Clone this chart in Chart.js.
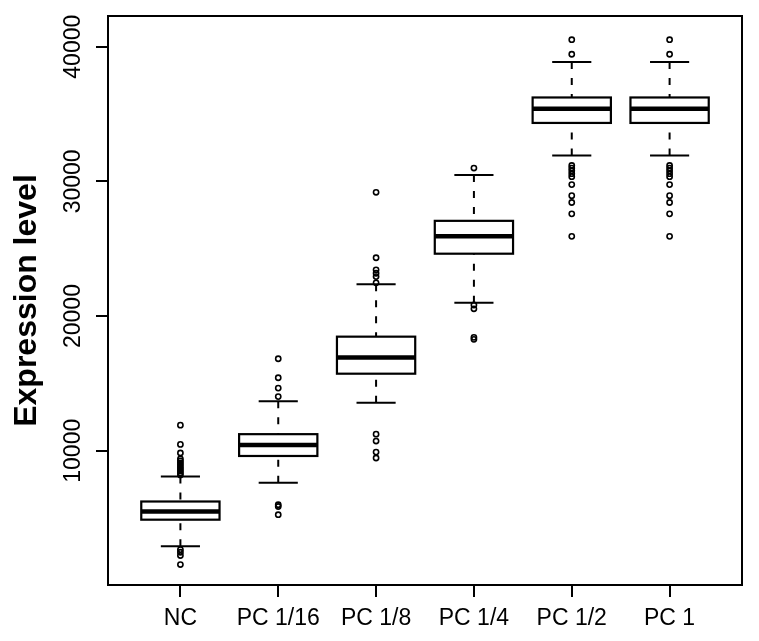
<!DOCTYPE html>
<html>
<head>
<meta charset="utf-8">
<script src="https://cdn.jsdelivr.net/npm/chart.js@4"></script>
<style>
  html, body { margin: 0; padding: 0; background: #fff; }
  #wrap { width: 759px; height: 641px; }
</style>
</head>
<body>
<div id="wrap"><canvas id="boxChart" width="759" height="641"></canvas></div>
<script>
// group names and five-number summaries
const categories = ['NC', 'PC 1/16', 'PC 1/8', 'PC 1/4', 'PC 1/2', 'PC 1'];
const lowerWhisker = [2900, 7630, 13570, 20990, 31920, 31920];
const q1 = [4880, 9610, 15720, 24630, 34340, 34340];
const median = [5490, 10420, 16920, 25920, 35390, 35390];
const q3 = [6230, 11230, 18470, 27070, 36230, 36230];
const upperWhisker = [8080, 13670, 22370, 30470, 38870, 38870];
const outliers = [
    [11900, 10470, 9830, 9400, 9250, 9100, 8950, 8800, 8650, 8500, 8350, 8200, 2660, 2460, 2220, 1550],
    [16830, 15420, 14650, 14020, 5990, 5860, 5250],
    [29190, 24330, 23430, 23180, 22930, 22470, 11230, 10720, 9900, 9460],
    [30990, 20820, 20540, 18420, 18270],
    [40520, 39440, 31180, 30990, 30790, 30570, 30350, 29760, 28940, 28430, 27590, 25920],
    [40520, 39440, 31180, 30990, 30790, 30570, 30350, 29760, 28940, 28430, 27590, 25920]
];
const yTicks = [10000, 20000, 30000, 40000];
const yTitle = 'Expression level';

const FONT = "'Liberation Sans', Arial, Helvetica, sans-serif";

// outlier points as scatter data
const outlierPoints = [];
outliers.forEach((list, i) => {
    list.forEach(v => outlierPoints.push({ x: i + 1, y: v }));
});

// boxes, whiskers and medians drawn through the chart scales
const boxPlugin = {
    id: 'boxPlugin',
    beforeDatasetsDraw(chart) {
        const ctx = chart.ctx;
        const xs = chart.scales.x;
        const ys = chart.scales.y;
        ctx.save();
        ctx.strokeStyle = '#000';
        categories.forEach((c, i) => {
            const xc = xs.getPixelForValue(i + 1);
            const xl = xs.getPixelForValue(i + 1 - 0.4);
            const xr = xs.getPixelForValue(i + 1 + 0.4);
            const cl = xs.getPixelForValue(i + 1 - 0.2);
            const cr = xs.getPixelForValue(i + 1 + 0.2);
            const yLo = ys.getPixelForValue(lowerWhisker[i]);
            const yQ1 = ys.getPixelForValue(q1[i]);
            const yMed = ys.getPixelForValue(median[i]);
            const yQ3 = ys.getPixelForValue(q3[i]);
            const yHi = ys.getPixelForValue(upperWhisker[i]);

            // dashed whiskers
            ctx.lineWidth = 2;
            ctx.setLineDash([7, 9]);
            ctx.beginPath();
            ctx.moveTo(xc, yHi); ctx.lineTo(xc, yQ3);
            ctx.moveTo(xc, yLo); ctx.lineTo(xc, yQ1);
            ctx.stroke();
            ctx.setLineDash([]);

            // whisker caps
            ctx.beginPath();
            ctx.moveTo(cl, yHi); ctx.lineTo(cr, yHi);
            ctx.moveTo(cl, yLo); ctx.lineTo(cr, yLo);
            ctx.stroke();

            // box
            ctx.lineWidth = 2.2;
            ctx.fillStyle = '#fff';
            ctx.fillRect(xl, yQ3, xr - xl, yQ1 - yQ3);
            ctx.strokeRect(xl, yQ3, xr - xl, yQ1 - yQ3);

            // median
            ctx.lineWidth = 4.5;
            ctx.beginPath();
            ctx.moveTo(xl, yMed); ctx.lineTo(xr, yMed);
            ctx.stroke();
        });
        ctx.restore();
    },
    afterDraw(chart) {
        const ctx = chart.ctx;
        const a = chart.chartArea;
        const ys = chart.scales.y;
        ctx.save();
        // full frame round the plot, like R's box()
        ctx.strokeStyle = '#000';
        ctx.lineWidth = 2;
        ctx.strokeRect(a.left, a.top, a.right - a.left, a.bottom - a.top);
        // rotated y tick labels
        ctx.fillStyle = '#000';
        ctx.font = '23px ' + FONT;
        ctx.textAlign = 'center';
        ctx.textBaseline = 'alphabetic';
        ys.ticks.forEach(t => {
            const y = ys.getPixelForValue(t.value);
            ctx.save();
            ctx.translate(80, y);
            ctx.rotate(-Math.PI / 2);
            ctx.fillText(String(t.value), 0, 0);
            ctx.restore();
        });
        ctx.restore();
    }
};

new Chart(document.getElementById('boxChart').getContext('2d'), {
    type: 'scatter',
    data: {
        datasets: [{
            label: 'Outliers',
            data: outlierPoints,
            pointStyle: 'circle',
            pointRadius: 2.6,
            pointHoverRadius: 2.6,
            borderWidth: 1.6,
            borderColor: '#000',
            backgroundColor: 'rgba(0,0,0,0)'
        }]
    },
    options: {
        responsive: false,
        animation: false,
        devicePixelRatio: 1,
        layout: { padding: { top: 16, right: 17, left: 0, bottom: 0 } },
        plugins: {
            legend: { display: false },
            tooltip: { enabled: false }
        },
        scales: {
            x: {
                type: 'linear',
                min: 0.26,
                max: 6.74,
                afterBuildTicks: s => { s.ticks = categories.map((c, i) => ({ value: i + 1 })); },
                afterFit: s => { s.height = 56; },
                ticks: {
                    autoSkip: false,
                    maxRotation: 0,
                    padding: 8,
                    color: '#000',
                    font: { family: FONT, size: 23 },
                    callback: v => categories[v - 1]
                },
                grid: { drawOnChartArea: false, drawTicks: true, tickLength: 12, color: '#000', lineWidth: 2 },
                border: { display: true, color: '#000', width: 2 }
            },
            y: {
                type: 'linear',
                min: 30,
                max: 42280,
                afterBuildTicks: s => { s.ticks = yTicks.map(v => ({ value: v })); },
                afterFit: s => { s.width = 108; },
                ticks: { display: false },
                grid: { drawOnChartArea: false, drawTicks: true, tickLength: 12, color: '#000', lineWidth: 2 },
                border: { display: true, color: '#000', width: 2 },
                title: {
                    display: true,
                    text: yTitle,
                    color: '#000',
                    font: { family: FONT, size: 32, weight: 'bold', lineHeight: 1.2 },
                    padding: { top: 8, bottom: 0 }
                }
            }
        }
    },
    plugins: [boxPlugin]
});
</script>
</body>
</html>
